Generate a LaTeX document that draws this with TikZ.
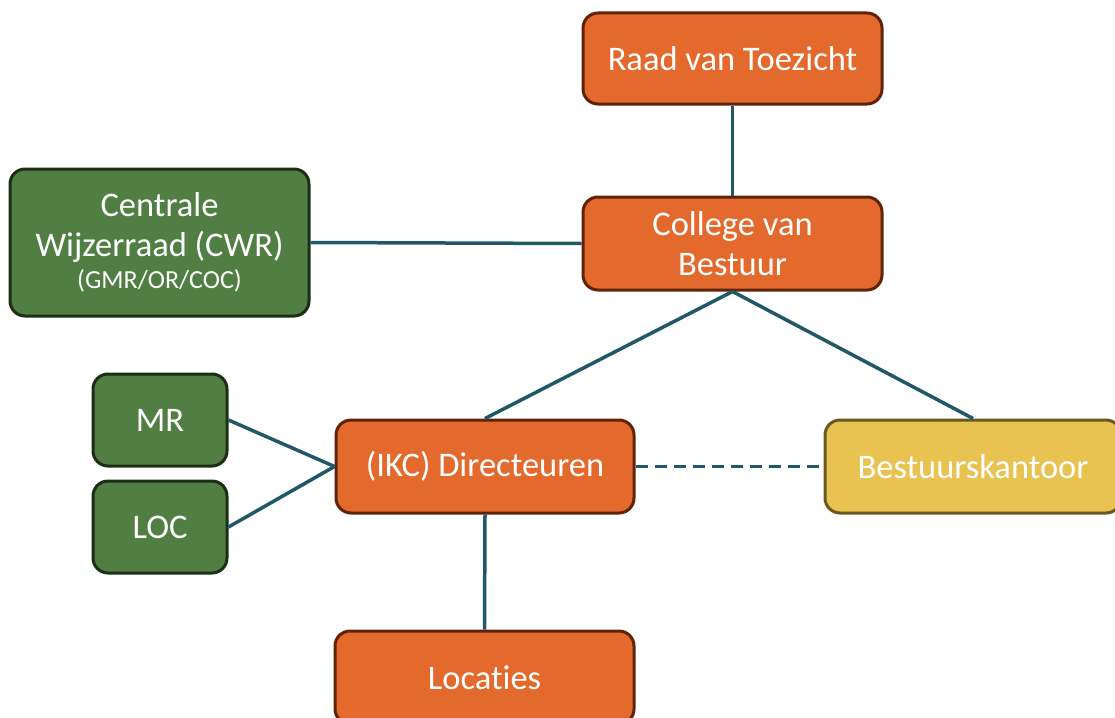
\documentclass[tikz,border=0pt]{standalone}
\usepackage{fontspec}
\setmainfont[Ligatures=NoCommon]{Carlito}
\definecolor{orangefill}{HTML}{E3692C}
\definecolor{orangeline}{HTML}{5E2308}
\definecolor{greenfill}{HTML}{507E43}
\definecolor{greenline}{HTML}{1C2E15}
\definecolor{yellowfill}{HTML}{E8C352}
\definecolor{yellowline}{HTML}{6A5722}
\definecolor{conn}{HTML}{215868}
\tikzset{
  box/.style={rectangle, rounded corners=15pt, line width=3pt, inner sep=0pt,
    text=white, align=center, font=\fontsize{34.5}{40}\selectfont},
  orangebox/.style={box, fill=orangefill, draw=orangeline},
  greenbox/.style={box, fill=greenfill, draw=greenline},
  yellowbox/.style={box, fill=yellowfill, draw=yellowline},
  link/.style={draw=conn, line width=3.5pt},
  dashedlink/.style={link, dash pattern=on 12pt off 7pt},
}
\begin{document}
\begin{tikzpicture}[x=1pt,y=-1pt]
\useasboundingbox (0,0) rectangle (1115,717);
\clip (0,0) rectangle (1115,717);
\node[orangebox, minimum width=299pt, minimum height=91pt] (raad) at (732.5,58.5) {Raad van Toezicht};
\node[orangebox, minimum width=299pt, minimum height=93pt] (college) at (732.5,243.5) {College van\\Bestuur};
\node[greenbox, minimum width=299pt, minimum height=147pt] (cwr) at (159.5,242.5) {Centrale\\Wijzerraad (CWR)\\[-8pt]{\fontsize{26}{32}\selectfont (GMR/OR/COC)}};
\node[greenbox, minimum width=134pt, minimum height=92pt] (mr) at (160,420) {MR};
\node[greenbox, minimum width=134pt, minimum height=92pt] (loc) at (160,527) {LOC};
\node[orangebox, minimum width=298pt, minimum height=93pt] (dir) at (485,466.5) {(IKC) Directeuren};
\node[yellowbox, minimum width=296pt, minimum height=93pt] (bk) at (973,466.5) {Bestuurskantoor};
\node[orangebox, minimum width=299pt, minimum height=93pt] (locaties) at (484.5,677.5) {Locaties};
\draw[link] (raad.south) -- (college.north);
\draw[link] (cwr.east) -- (college.west);
\draw[link] (college.south) -- (dir.north);
\draw[link] (college.south) -- (bk.north);
\draw[link] (mr.east) -- (dir.west);
\draw[link] (loc.east) -- (dir.west);
\draw[dashedlink] (dir.east) -- (bk.west);
\draw[link] (dir.south) -- (locaties.north);
\end{tikzpicture}
\end{document}
